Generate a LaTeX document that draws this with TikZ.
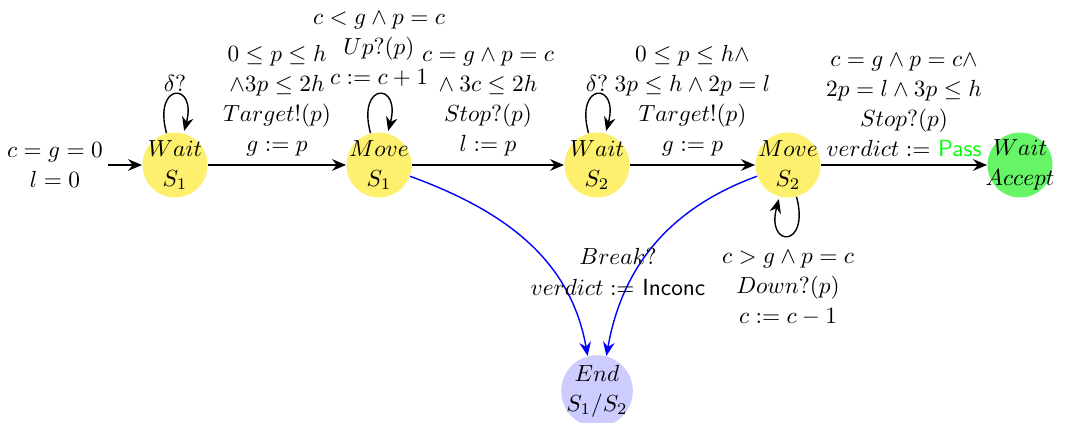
\documentclass[tikz,border=0pt]{standalone}
\usetikzlibrary{arrows.meta}
\definecolor{stY}{RGB}{253,240,110}
\definecolor{stG}{RGB}{102,245,102}
\definecolor{stB}{RGB}{204,204,255}
\definecolor{passG}{RGB}{0,255,0}
\begin{document}
\begin{tikzpicture}[x=0.01508cm,y=-0.01508cm,
  >={Stealth[length=6pt,width=5pt,inset=2pt]},
  state/.style={circle,minimum size=0.98cm,inner sep=-12pt,align=center,font=\fontsize{10}{12.9}\selectfont},
  lab/.style={align=center,font=\fontsize{10}{12.9}\selectfont},
  edge/.style={->,semithick},
  blueedge/.style={->,semithick,blue}]
\useasboundingbox (0,0) rectangle (1065,423);
\node[state,fill=stY] (w1) at (175,165) {$Wait$\\$S_1$};
\node[state,fill=stY] (m1) at (379,165) {$Move$\\$S_1$};
\node[state,fill=stY] (w2) at (597,165) {$Wait$\\$S_2$};
\node[state,fill=stY] (m2) at (788,165) {$Move$\\$S_2$};
\node[state,fill=stG] (acc) at (1020,165) {$Wait$\\$Accept$};
\node[state,fill=stB,minimum size=1.08cm] (end) at (597,391) {$End$\\$S_1/S_2$};
\node[lab] (init) at (55,165) {$c=g=0$\\$l=0$};
\coordinate (istart) at (108,165);
\draw[edge] (istart) -- (w1);
\draw[edge] (w1) -- node[lab,above] {$0\le p\le h$\\$\wedge 3p\le 2h$\\$Target!(p)$\\$g:=p$} (m1);
\draw[edge] (m1) -- node[lab,above] {$c=g\wedge p=c$\\$\wedge\: 3c\le 2h$\\$Stop?(p)$\\$l:=p$} (w2);
\draw[edge] (w2) -- node[lab,above] {$0\le p\le h\wedge$\\$3p\le h\wedge 2p=l$\\$Target!(p)$\\$g:=p$} (m2);
\draw[edge] (m2) -- node[lab,above] {$c=g\wedge p=c\wedge$\\$2p=l\wedge 3p\le h$\\$Stop?(p)$\\$verdict:=$ \textcolor{passG}{\textsf{Pass}}} (acc);
\draw[edge] (w1) edge[loop above] node[lab,above,yshift=-2.5pt] {$\delta?$} (w1);
\draw[edge] (w2) edge[loop above] node[lab,above,yshift=-2.5pt] {$\delta?$} (w2);
\draw[edge] (m1) edge[loop above] node[lab,above] {$c<g\wedge p=c$\\$Up?(p)$\\$c:=c+1$} (m1);
\draw[edge] (m2) edge[loop below] node[lab,below,yshift=-3pt] {$c>g\wedge p=c$\\$Down?(p)$\\$c:=c-1$} (m2);
\draw[blueedge] (m1.-20) to[out=-20,in=100] (end.105);
\draw[blueedge] (m2.200) to[out=200,in=80] (end.75);
\node[lab] (brk) at (618,272) {$Break?$\\$verdict:=$ \textsf{Inconc}};
\end{tikzpicture}
\end{document}
